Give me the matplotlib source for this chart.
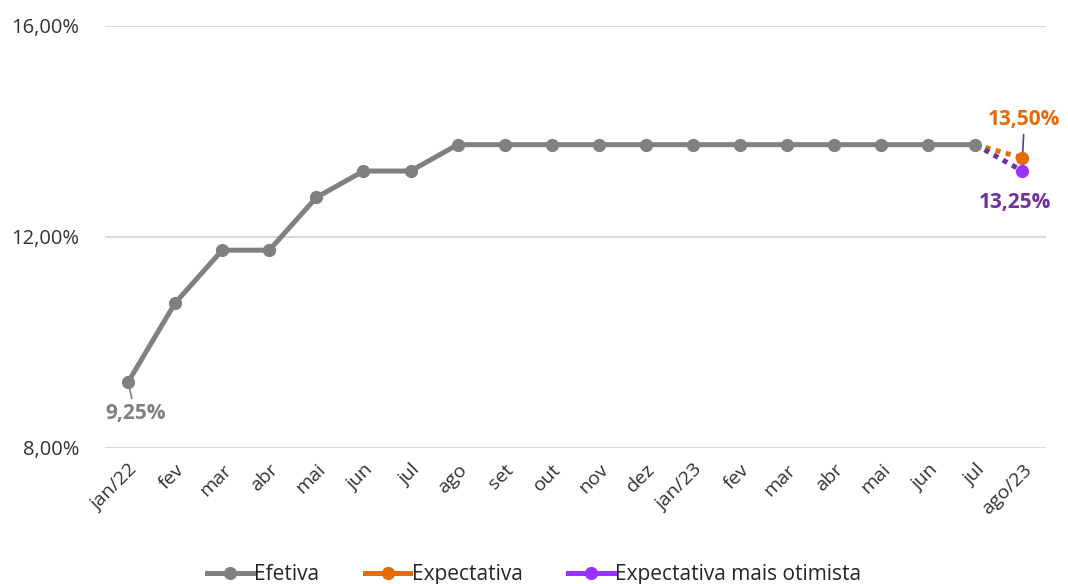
import numpy as np
import matplotlib.pyplot as plt
from matplotlib.lines import Line2D

# Selic: taxa efetiva e expectativas
meses = ["jan/22", "fev", "mar", "abr", "mai", "jun", "jul", "ago", "set", "out",
         "nov", "dez", "jan/23", "fev", "mar", "abr", "mai", "jun", "jul", "ago/23"]
efetiva = [9.25, 10.75, 11.75, 11.75, 12.75, 13.25, 13.25, 13.75, 13.75, 13.75,
           13.75, 13.75, 13.75, 13.75, 13.75, 13.75, 13.75, 13.75, 13.75]
expectativa = [13.75, 13.50]          # jul/23 -> ago/23
otimista = [13.75, 13.25]             # jul/23 -> ago/23
y_ticks = [8, 12, 16]

CINZA = "#808080"
LARANJA = "#E46C0A"
ROXO_MARCA = "#9933FF"
ROXO_TEXTO = "#7030A0"
TEXTO = "#333333"

plt.rcParams['font.family'] = ['Open Sans', 'DejaVu Sans']

fig = plt.figure(figsize=(10.68, 5.84), dpi=100)
ax = fig.add_axes([0.0979, 0.2329, 0.8815, 0.7226])

x = np.arange(len(meses))
ax.plot(x[:len(efetiva)], efetiva, color=CINZA, lw=3.6, marker='o', ms=8.5,
        solid_capstyle='round', zorder=3)
ax.plot(x[-2:], expectativa, color=LARANJA, lw=3.6, ls=(0, (1, 1.1)),
        dash_capstyle='butt', zorder=2)
ax.plot(x[-1], expectativa[-1], 'o', color=LARANJA, ms=8.5, zorder=4)
ax.plot(x[-2:], otimista, color=ROXO_TEXTO, lw=3.6, ls=(0, (1, 1.1)),
        dash_capstyle='butt', zorder=2)
ax.plot(x[-1], otimista[-1], 'o', color=ROXO_MARCA, ms=8.5, zorder=4)

# rótulos de dados
def fmt(v):
    return f"{v:.2f}%".replace('.', ',')

rot = dict(ha='center', va='center', fontsize=15, fontweight='bold')
ax.annotate(fmt(efetiva[0]), xy=(x[0], efetiva[0]), xytext=(x[0] + 0.15, 8.66),
            color=CINZA, **rot,
            arrowprops=dict(arrowstyle='-', color=CINZA, lw=1.2, shrinkA=1, shrinkB=2))
ax.annotate(fmt(expectativa[-1]), xy=(x[-1], expectativa[-1]), xytext=(x[-1] + 0.04, 14.22),
            color=LARANJA, **rot,
            arrowprops=dict(arrowstyle='-', color=ROXO_TEXTO, lw=1.2, shrinkA=1, shrinkB=3))
ax.text(x[-1] - 0.15, 12.66, fmt(otimista[-1]), color=ROXO_TEXTO, **rot)

ax.set_xlim(-0.5, len(meses) - 0.5)
ax.set_ylim(y_ticks[0], y_ticks[-1])
ax.set_yticks(y_ticks)
ax.set_yticklabels([fmt(v) for v in y_ticks], fontsize=14.5, color=TEXTO)
ax.set_xticks(x)
ax.set_xticklabels(meses, rotation=45, ha='right', rotation_mode='anchor',
                   fontsize=14, color=TEXTO)
ax.tick_params(axis='x', length=0, pad=9)
ax.tick_params(axis='y', length=0, pad=18)
ax.grid(axis='y', color="#D9D9D9", lw=1.5)
ax.set_axisbelow(True)
for s in ax.spines.values():
    s.set_visible(False)

handles = [
    Line2D([], [], color=CINZA, lw=3.6, marker='o', ms=8.5),
    Line2D([], [], color=LARANJA, lw=3.6, marker='o', ms=8.5),
    Line2D([], [], color=ROXO_MARCA, lw=3.6, marker='o', ms=8.5),
]
leg = fig.legend(handles, ["Efetiva", "Expectativa", "Expectativa mais otimista"],
                 loc='lower center', bbox_to_anchor=(0.5, -0.034), ncol=3, frameon=False,
                 fontsize=15, handlelength=2.2, handletextpad=0.05, columnspacing=2.2)
for t in leg.get_texts():
    t.set_color("#262626")

fig.savefig("out.png", dpi=100)
